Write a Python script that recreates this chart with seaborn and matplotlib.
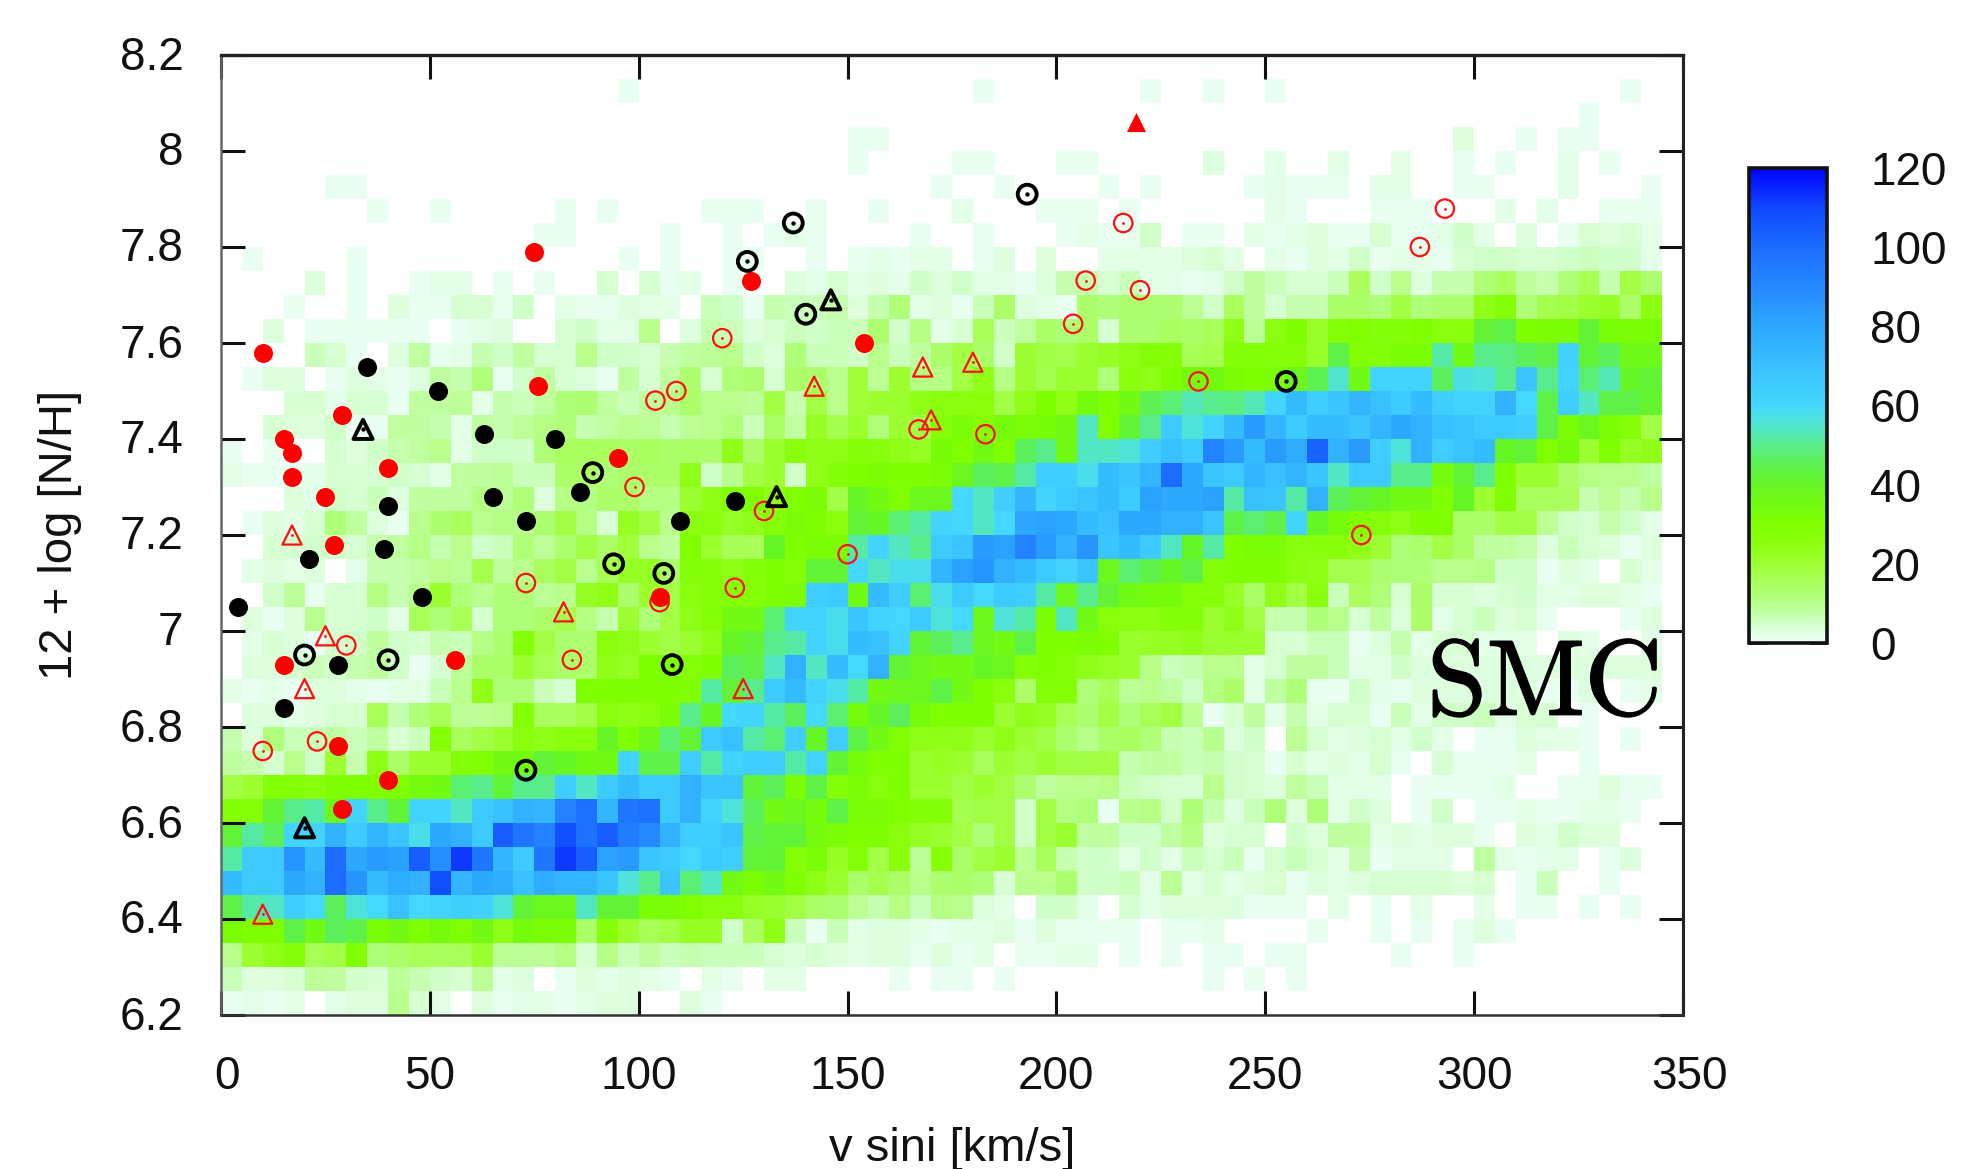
import numpy as np
import pandas as pd
import matplotlib
matplotlib.use("Agg")
import matplotlib.pyplot as plt
import matplotlib.patheffects as pe
from matplotlib.colors import LinearSegmentedColormap
from matplotlib.transforms import ScaledTranslation
import seaborn as sns

# star counts per bin: 5 km/s wide, 0.05 dex tall, named by the lower edge of the N/H bin
row_815 = [0]*69
row_810 = [0]*19+[1,0,0,0] + [0]*13+[1]+[0]*7+[1,0,0] + [1,0,0,1]+[0]*16+[1,0]
row_805 = [0]*23 + [0]*24 + [0]*18+[1,0,0,0]
row_800 = [0]*23 + [0]*7+[1,1]+[0]*15 + [0]*12+[3,0,0,1,0,1,1,0,0,0]
row_795 = [0]*23 + [0]*7+[1,0,0,0,0,1,1,0,0,0,1,1,0,0,0,0,0] + [3,0,0,2,0,0,2,0,0,2,0,0,1,0,1,0,0,2,0,1,0,0]
row_790 = [0,0,0,0,0,1,1]+[0]*16 + [0]*11+[1,0,0,1,0,0,0,0,1,0,1,0,0] + [0,0,1,2,1,1,1,0,2,2,0,0,1,1,0,0,0,2,0,0,0,1]
row_785 = [0]*7+[1,0,0,1,0,0,0,0,0,1,0,1,0,0,0,0] + [1,1,1,0,0,1,0,0,1,0,0,0,2,0,0,0,1,1,1,0,1,0,0,0] + [0,0,0,2,1,0,0,0,1,1,1,0,0,0,2,0,2,0,0,1,1,1][0:22]
row_780 = [0]*15+[1,1,0,0,0,0,1,0] + [0,1,0,1,2,1,0,0,0,0,1,0,0,1,0,0,0,1,2,1,1,5,0,1] + [1,0,2,1,2,3,1,1,4,1,1,2,5,2,0,3,0,1,4,3,4,2]
row_775 = [0,1,0,0,0,0,1,0,0,0,0,0,0,0,0,0,0,0,0,1,0,1,0] + [0,1,1,0,0,1,0,1,2,1,2,2,0,1,3,0,3,0,0,2,2,2,2,3] + [4,2,0,2,1,3,2,5,1,2,2,1,4,5,5,4,4,5,6,5,5,2]
row_770 = [0,0,0,0,3,0,1,0,0,1,2,2,0,1,0,1,0,0,4,0,4,1,2] + [0,1,0,0,3,2,4,2,3,2,5,3,5,2,2,1,3,7,7,4,6,2,2,1] + [2,5,8,6,4,4,6,15,5,10,3,7,7,12,15,8,7,12,16,7,18,13]
row_765 = [0,0,0,1,0,0,1,0,3,1,1,4,4,1,5,0,2,1,1,3,2,2,0] + [6,5,1,7,6,6,7,3,7,12,2,3,1,6,14,3,2,1,14,12,13,13,13,9] + [5,15,8,4,7,7,14,14,12,18,12,13,13,24,28,12,17,18,20,22,14,25]
row_760 = [0,0,3,0,1,1,1,1,1,1,0,1,2,3,0,0,4,5,2,2,10,0,3] + [7,6,3,4,6,5,6,6,13,5,11,2,4,16,6,8,14,12,14,4,13,13,15,14] + [16,24,9,25,30,21,28,30,28,28,30,26,26,42,44,30,32,32,42,32,32,32]
row_755 = [0,0,0,0,6,4,1,0,3,8,1,2,7,5,8,4,4,10,5,5,4,7,8] + [9,10,5,3,12,6,6,5,10,6,8,14,18,14,5,20,18,17,20,22,24,28,28,16] + [17,28,28,28,28,21,44,29,28,32,32,52,36,50,49,46,44,63,42,46,37,37]
row_750 = [0,1,3,3,0,1,3,2,1,3,8,7,12,1,5,8,4,3,1,8,4,8,13] + [4,12,13,4,14,14,10,19,9,20,11,11,18,24,11,20,17,20,20,12,26,24,30,34] + [35,32,30,32,38,45,55,36,62,62,62,46,57,56,50,68,50,62,48,53,40,42]
row_745 = [0,0,0,4,4,2,4,4,1,8,8,9,2,7,6,8,12,13,8,6,8,10,14] + [10,10,9,18,7,18,10,19,20,20,24,26,26,26,18,24,30,24,34,30,36,45,48,53] + [50,49,53,62,72,64,68,74,70,66,72,64,62,62,76,60,44,64,54,44,44,41]
row_740 = [0,0,4,3,3,5,1,1,8,8,7,2,8,7,9,11,12,7,8,10,9,7,9] + [10,12,6,14,8,22,17,20,12,20,18,28,32,28,34,32,33,36,54,30,42,50,66,56] + [62,72,84,74,66,72,72,68,74,80,76,70,68,66,66,64,44,32,38,32,28,18]
row_735 = [1,0,1,0,0,4,3,5,7,8,10,2,5,5,5,12,15,15,15,14,15,14,14] + [14,24,14,20,26,24,24,28,27,24,22,33,30,36,30,46,50,36,54,54,56,64,70,66] + [92,84,72,84,78,102,76,84,64,56,76,64,68,72,40,42,30,34,20,30,22,24]
row_730 = [2,1,1,1,2,4,4,4,5,4,2,8,8,9,6,6,14,14,12,14,14,14,24] + [5,10,18,20,5,24,28,30,32,30,30,32,38,46,44,52,64,64,58,72,68,74,100,80] + [68,66,74,70,74,68,54,66,66,50,50,34,42,50,30,20,20,14,11,10,10,8]
row_725 = [0,0,0,3,2,5,4,6,3,8,8,8,11,9,12,3,11,11,14,14,11,11,20] + [24,30,30,24,30,32,18,40,36,30,38,38,60,54,64,74,62,66,68,72,66,82,80,80] + [82,52,70,68,52,76,46,42,40,36,36,30,40,20,30,15,15,15,7,9,7,10]
row_720 = [0,1,3,2,4,12,8,3,1,10,13,15,10,11,10,13,18,11,4,22,18,10,25] + [26,22,24,28,32,30,26,42,40,48,52,62,60,54,60,80,82,80,72,70,80,80,76,76] + [68,44,48,44,62,40,34,30,28,24,30,30,14,14,18,18,9,5,4,7,5,2]
row_715 = [0,0,4,4,5,5,4,7,8,11,7,10,5,6,12,9,13,18,14,19,10,8,30] + [20,16,16,40,30,32,32,52,62,54,50,66,68,84,82,92,84,76,86,68,72,66,54,40] + [52,30,32,32,27,26,26,24,20,12,13,18,14,8,8,7,3,6,4,3,1,3]
row_710 = [0,2,3,2,3,0,2,7,7,8,10,9,17,8,10,15,18,10,16,22,22,14,28] + [28,24,28,30,28,42,42,60,54,58,58,74,82,86,76,72,66,62,68,38,48,44,40,44] + [28,30,30,30,25,24,17,17,13,12,12,10,10,11,5,5,1,3,2,0,4,2]
row_705 = [0,0,5,9,1,4,4,11,7,10,20,12,10,12,12,9,10,22,24,14,20,18,26] + [28,28,28,30,32,64,66,36,72,64,48,58,66,60,66,64,52,38,50,42,36,34,34,28] + [28,22,14,24,18,26,6,15,12,4,14,4,4,3,4,5,2,2,3,3,2,1]
row_700 = [0,3,1,3,10,4,4,5,2,16,12,16,4,12,12,14,17,11,7,20,12,18,24] + [28,36,36,48,62,62,58,68,62,60,66,56,60,38,56,52,32,54,36,27,25,25,28,28] + [20,24,18,7,7,12,10,4,8,3,14,2,4,6,3,4,1,0,0,0,1,3]
row_695 = [0,2,4,3,1,4,5,8,5,4,7,6,11,13,28,18,13,13,26,24,20,18,20] + [24,40,42,50,52,62,58,72,70,62,42,46,50,38,36,44,30,30,32,30,20,22,22,24] + [20,20,20,4,4,6,6,1,3,7,2,4,4,2,2,2,0,3,2,0,0,2]
row_690 = [0,3,3,4,6,5,7,8,5,1,4,9,14,14,20,16,14,14,24,22,30,30,28] + [30,46,44,54,76,54,72,60,76,42,38,36,36,40,38,28,30,28,24,22,20,11,6,7] + [10,10,2,4,8,8,6,2,2,5,3,3,3,3,3,3,3,3,3,3,3,3]
row_685 = [2,1,2,1,3,3,2,1,2,2,6,10,24,12,12,6,4,30,30,30,30,30,30] + [52,42,50,66,72,62,58,52,36,38,38,44,36,30,26,14,28,28,12,16,9,10,8,5] + [11,14,2,8,12,1,1,5,2,1,3,3,3,3,3,3,1,1,3,0,1,2]
row_680 = [0,3,3,2,3,4,4,16,7,12,16,9,9,10,28,15,15,18,26,24,26,32,50] + [40,60,62,52,46,60,48,34,40,46,34,30,30,30,20,24,22,16,13,18,12,16,18,9] + [1,4,8,2,7,2,4,4,1,6,2,5,5,6,2,4,4,0,1,0,0,0]
row_675 = [7,3,12,6,6,8,6,8,4,6,28,15,18,20,26,24,26,26,40,30,38,48,42] + [66,70,52,48,64,40,64,44,36,30,24,24,24,20,24,20,18,13,10,14,15,12,7,6] + [10,3,5,0,9,4,2,3,4,2,5,2,0,1,1,3,2,2,1,0,1,0]
row_670 = [8,7,4,10,5,20,7,24,14,20,20,28,30,36,36,42,40,36,36,62,44,44,64] + [52,62,64,64,52,62,42,34,30,30,20,22,20,15,20,18,20,18,18,18,7,8,8,6] + [7,5,4,1,4,2,3,2,4,1,0,4,1,1,1,2,0,0,1,0,0,0]
row_665 = [18,20,28,28,26,30,30,30,30,34,36,48,50,42,50,50,64,54,66,72,66,66,76] + [68,68,42,46,32,44,28,32,27,30,20,20,18,20,18,13,8,10,10,11,6,5,4,4] + [10,5,4,3,8,6,2,2,2,0,1,1,1,1,2,0,0,1,1,3,1,1]
row_660 = [28,28,42,50,52,38,62,50,42,62,62,54,66,70,76,74,92,98,74,96,98,66,76] + [62,56,46,36,38,34,44,32,32,30,28,28,17,18,18,5,18,11,12,1,10,11,5,12] + [7,3,6,12,3,12,2,5,3,0,1,5,0,1,1,2,1,1,2,2,1,0]
row_655 = [42,52,46,62,62,76,66,74,68,58,80,76,66,104,96,92,108,98,104,94,90,76,64] + [64,68,44,42,42,34,32,30,30,26,22,20,18,12,18,5,18,20,8,8,5,5,8,11] + [3,4,4,0,5,3,8,8,2,3,2,3,3,1,0,3,2,5,3,3,0,0]
row_650 = [52,66,66,86,72,100,80,84,82,104,88,112,96,74,66,96,112,104,82,84,68,66,60] + [66,64,42,42,28,32,22,28,18,26,9,28,14,18,20,9,15,7,5,5,2,5,2,6] + [4,6,1,4,6,4,2,7,1,2,2,2,0,8,2,1,2,2,0,1,3,0]
row_645 = [72,66,66,80,76,100,86,72,78,76,108,74,80,78,70,78,74,74,68,56,50,68,48] + [54,36,32,36,30,24,20,14,17,14,10,13,14,12,4,10,10,13,5,5,6,2,9,2] + [4,2,3,4,1,3,2,3,4,4,4,4,3,4,0,1,6,0,0,1,0,0]
row_640 = [44,52,54,64,60,46,56,60,70,60,62,64,63,56,42,38,38,54,42,42,32,32,30] + [26,26,22,20,18,14,13,9,7,11,6,11,10,3,2,0,5,5,2,0,4,2,3,3] + [3,3,1,1,1,0,2,0,1,0,2,0,0,2,0,1,1,0,1,0,1,0]
row_635 = [32,30,30,44,36,46,44,32,36,30,34,30,36,24,34,32,32,14,28,20,16,18,22] + [22,5,15,24,6,1,6,2,3,3,2,1,2,2,3,1,3,1,1,1,1,0,1,1] + [2,0,0,0,0,1,0,0,1,0,1,0,1,3,1,0,0,0,0,0,0,0]
row_630 = [10,20,24,28,16,18,30,12,14,16,15,16,20,9,9,9,11,4,11,6,8,6,7] + [6,6,6,4,3,4,3,2,3,3,1,3,1,2,0,1,1,2,2,0,1,0,1,0] + [1,1,0,1,1,0,0,0,0,1,0,0,1,0,0,0,0,0,0,0,0,0]
row_625 = [6,3,3,4,9,8,5,4,9,7,5,4,9,2,3,0,1,3,2,3,2,1,0] + [2,1,0,2,2,0,0,0,0,1,0,1,1,0,1,0,0,0,0,0,0,0,0,0] + [1,0,1,0,1,0,0,0,0,0,0,0,0,0,0,0,0,0,0,0,0,0]
row_620 = [1,2,1,2,0,2,3,3,10,4,2,0,3,1,2,2,1,2,3,3,0,0,3] + [1]+[0]*23 + [0]*22

rows_top_down = [row_815, row_810, row_805, row_800, row_795, row_790, row_785, row_780, row_775, row_770,
                 row_765, row_760, row_755, row_750, row_745, row_740, row_735, row_730, row_725, row_720,
                 row_715, row_710, row_705, row_700, row_695, row_690, row_685, row_680, row_675, row_670,
                 row_665, row_660, row_655, row_650, row_645, row_640, row_635, row_630, row_625, row_620]
for k, r in enumerate(rows_top_down):
    assert len(r) == 69, (k, len(r))

# overlay stars: v sini, 12+log N/H
black_fill_x = [4, 15, 21, 28, 35, 39, 40, 48, 52, 63, 65, 73, 80, 86, 110, 123]
black_fill_y = [7.05, 6.84, 7.15, 6.93, 7.55, 7.17, 7.26, 7.07, 7.50, 7.41, 7.28, 7.23, 7.40, 7.29, 7.23, 7.27]
black_circ_x = [20, 40, 89, 94, 106, 108, 73, 137, 126, 140, 193, 255]
black_circ_y = [6.95, 6.94, 7.33, 7.14, 7.12, 6.93, 6.71, 7.85, 7.77, 7.66, 7.91, 7.52]
black_tri_x = [34, 146, 133, 20]
black_tri_y = [7.42, 7.69, 7.28, 6.59]
red_fill_x = [76, 29, 15, 17, 17, 25, 40, 27, 15, 56, 95, 105, 28, 40, 29, 10, 75, 127, 154]
red_fill_y = [7.51, 7.45, 7.40, 7.37, 7.32, 7.28, 7.34, 7.18, 6.93, 6.94, 7.36, 7.07, 6.76, 6.69, 6.63, 7.58, 7.79, 7.73, 7.60]
red_circ_x = [104, 109, 99, 73, 30, 84, 105, 10, 23, 120, 216, 207, 220, 204, 293, 287, 234, 167, 183, 130, 150, 123, 273]
red_circ_y = [7.48, 7.50, 7.30, 7.10, 6.97, 6.94, 7.06, 6.75, 6.77, 7.61, 7.85, 7.73, 7.71, 7.64, 7.88, 7.80, 7.52, 7.42, 7.41, 7.25, 7.16, 7.09, 7.20]
red_tri_x = [17, 25, 20, 82, 10, 142, 170, 125, 168, 180]
red_tri_y = [7.20, 6.99, 6.88, 7.04, 6.41, 7.51, 7.44, 6.88, 7.55, 7.56]
red_ftri_x = [219]
red_ftri_y = [8.06]

x_ticks = [0, 50, 100, 150, 200, 250, 300, 350]
y_ticks = [6.2, 6.4, 6.6, 6.8, 7, 7.2, 7.4, 7.6, 7.8, 8, 8.2]
y_tick_labels = ["6.2", "6.4", "6.6", "6.8", "7", "7.2", "7.4", "7.6", "7.8", "8", "8.2"]
cbar_ticks = [0, 20, 40, 60, 80, 100, 120]

W, H = 1977, 1169
sns.set_theme(style="white")
plt.rcParams["font.family"] = ["Liberation Sans", "DejaVu Sans"]
plt.rcParams["mathtext.fontset"] = "cm"

stops = [(0, "#e8fff2"), (1, "#e8fff2"), (3, "#dcffdc"), (5, "#d0ffc8"), (8, "#c0ffa0"), (12, "#b0ff78"),
         (16, "#a8ff55"), (20, "#9cff30"), (25, "#8cff10"), (30, "#80ff00"), (35, "#72fb10"), (40, "#66f525"),
         (45, "#5cf050"), (50, "#58ec8c"), (55, "#50e4d0"), (60, "#44d8ff"), (70, "#38c0ff"), (80, "#2ca8ff"),
         (90, "#2488ff"), (100, "#1c6cff"), (110, "#1048ff"), (120, "#0000ff")]
cmap = LinearSegmentedColormap.from_list("smc", [(v / 120, c) for v, c in stops], N=512)

fig = plt.figure(figsize=(W / 100, H / 100), dpi=100, facecolor="white")
rect = [221 / W, (H - 1015) / H, 1462 / W, 960 / H]
ax_heat = fig.add_axes(rect)
cax = fig.add_axes([1749 / W, (H - 643) / H, 78 / W, 475 / H])

counts = pd.DataFrame(np.array(rows_top_down, dtype=float))
counts[69] = 0.0
sns.heatmap(counts, ax=ax_heat, cbar_ax=cax, cmap=cmap, vmin=0, vmax=120, mask=counts == 0,
            cbar=True, cbar_kws={"ticks": cbar_ticks}, xticklabels=False, yticklabels=False)
ax_heat.set_xlim(0, 70)
ax_heat.set_ylim(40, 0)
ax_heat.axis("off")

cb = ax_heat.collections[0].colorbar
cb.outline.set_visible(True)
cb.outline.set_linewidth(2.6)
cb.outline.set_edgecolor("#111111")
cax.yaxis.set_ticks_position("both")
cax.tick_params(axis="y", which="major", direction="in", length=13, width=1.8, color="black",
                labelsize=33, labelcolor="#111111", left=True, right=True, labelleft=False, labelright=True, pad=31)

ax = fig.add_axes(rect, sharex=None)
ax.patch.set_alpha(0)
ax.set_xlim(0, 350)
ax.set_ylim(6.2, 8.2)


def pts(xs, ys, **kw):
    sns.scatterplot(x=xs, y=ys, ax=ax, legend=False, clip_on=False, **kw)


red = "#ff0f0f"
pts(red_circ_x, red_circ_y, marker="o", s=176, facecolors="none", edgecolor=red, linewidth=1.6, zorder=3)
pts(red_circ_x, red_circ_y, marker="o", s=4, color=red, linewidth=0, zorder=3)
pts(red_tri_x, red_tri_y, marker="^", s=190, facecolors="none", edgecolor=red, linewidth=1.6, zorder=3)
pts(red_tri_x, red_tri_y, marker="o", s=4, color=red, linewidth=0, zorder=3)
pts(red_fill_x, red_fill_y, marker="o", s=187, color="#ff0000", linewidth=0, zorder=4)
pts(red_ftri_x, red_ftri_y, marker="^", s=190, color="#ff0000", linewidth=0, zorder=4)
pts(black_fill_x, black_fill_y, marker="o", s=187, color="black", linewidth=0, zorder=4)
pts(black_circ_x, black_circ_y, marker="o", s=185, facecolors="none", edgecolor="black", linewidth=2.8, zorder=4)
pts(black_circ_x, black_circ_y, marker="o", s=10, color="black", linewidth=0, zorder=4)
pts(black_tri_x, black_tri_y, marker="^", s=190, facecolors="none", edgecolor="black", linewidth=2.8, zorder=4)
pts(black_tri_x, black_tri_y, marker="o", s=10, color="black", linewidth=0, zorder=4)

ax.set_xticks(x_ticks)
ax.set_yticks(y_ticks)
ax.set_yticklabels(y_tick_labels)
ax.tick_params(axis="both", which="major", direction="in", length=17, width=2.2, color="#111111",
               top=True, right=True, bottom=True, left=True, labelsize=33, labelcolor="#111111")
ax.tick_params(axis="x", pad=29)
ax.tick_params(axis="y", pad=27)
ax.set_xlim(0, 350)
ax.set_ylim(6.2, 8.2)
for side, lw, col in [("top", 2.4, "#222222"), ("right", 2.2, "#222222"), ("bottom", 1.8, "#333333"), ("left", 1.8, "#666666")]:
    ax.spines[side].set_visible(True)
    ax.spines[side].set_linewidth(lw)
    ax.spines[side].set_color(col)

# gnuplot nudges the two end labels inward/outward and sets the y labels a touch higher
xlabels = ax.get_xticklabels()
for lab in (xlabels[0], xlabels[-1]):
    lab.set_transform(lab.get_transform() + ScaledTranslation(6.5 / 100, 0, fig.dpi_scale_trans))
for lab in ax.get_yticklabels():
    lab.set_transform(lab.get_transform() + ScaledTranslation(0, 2.5 / 100, fig.dpi_scale_trans))

ax.set_xlabel("v sini [km/s]", fontsize=34, color="#111111")
ax.set_ylabel("12 + log [N/H]", fontsize=34, color="#111111")
ax.xaxis.set_label_coords(0.5, -0.117)
ax.yaxis.set_label_coords(-0.095, 0.5)
smc = ax.text(344, 6.825, r"$\mathrm{SMC}$", fontsize=77, ha="right", va="baseline", color="black", zorder=5)
smc.set_path_effects([pe.withStroke(linewidth=1.3, foreground="black")])

fig.savefig("out.png", dpi=100, facecolor="white")
